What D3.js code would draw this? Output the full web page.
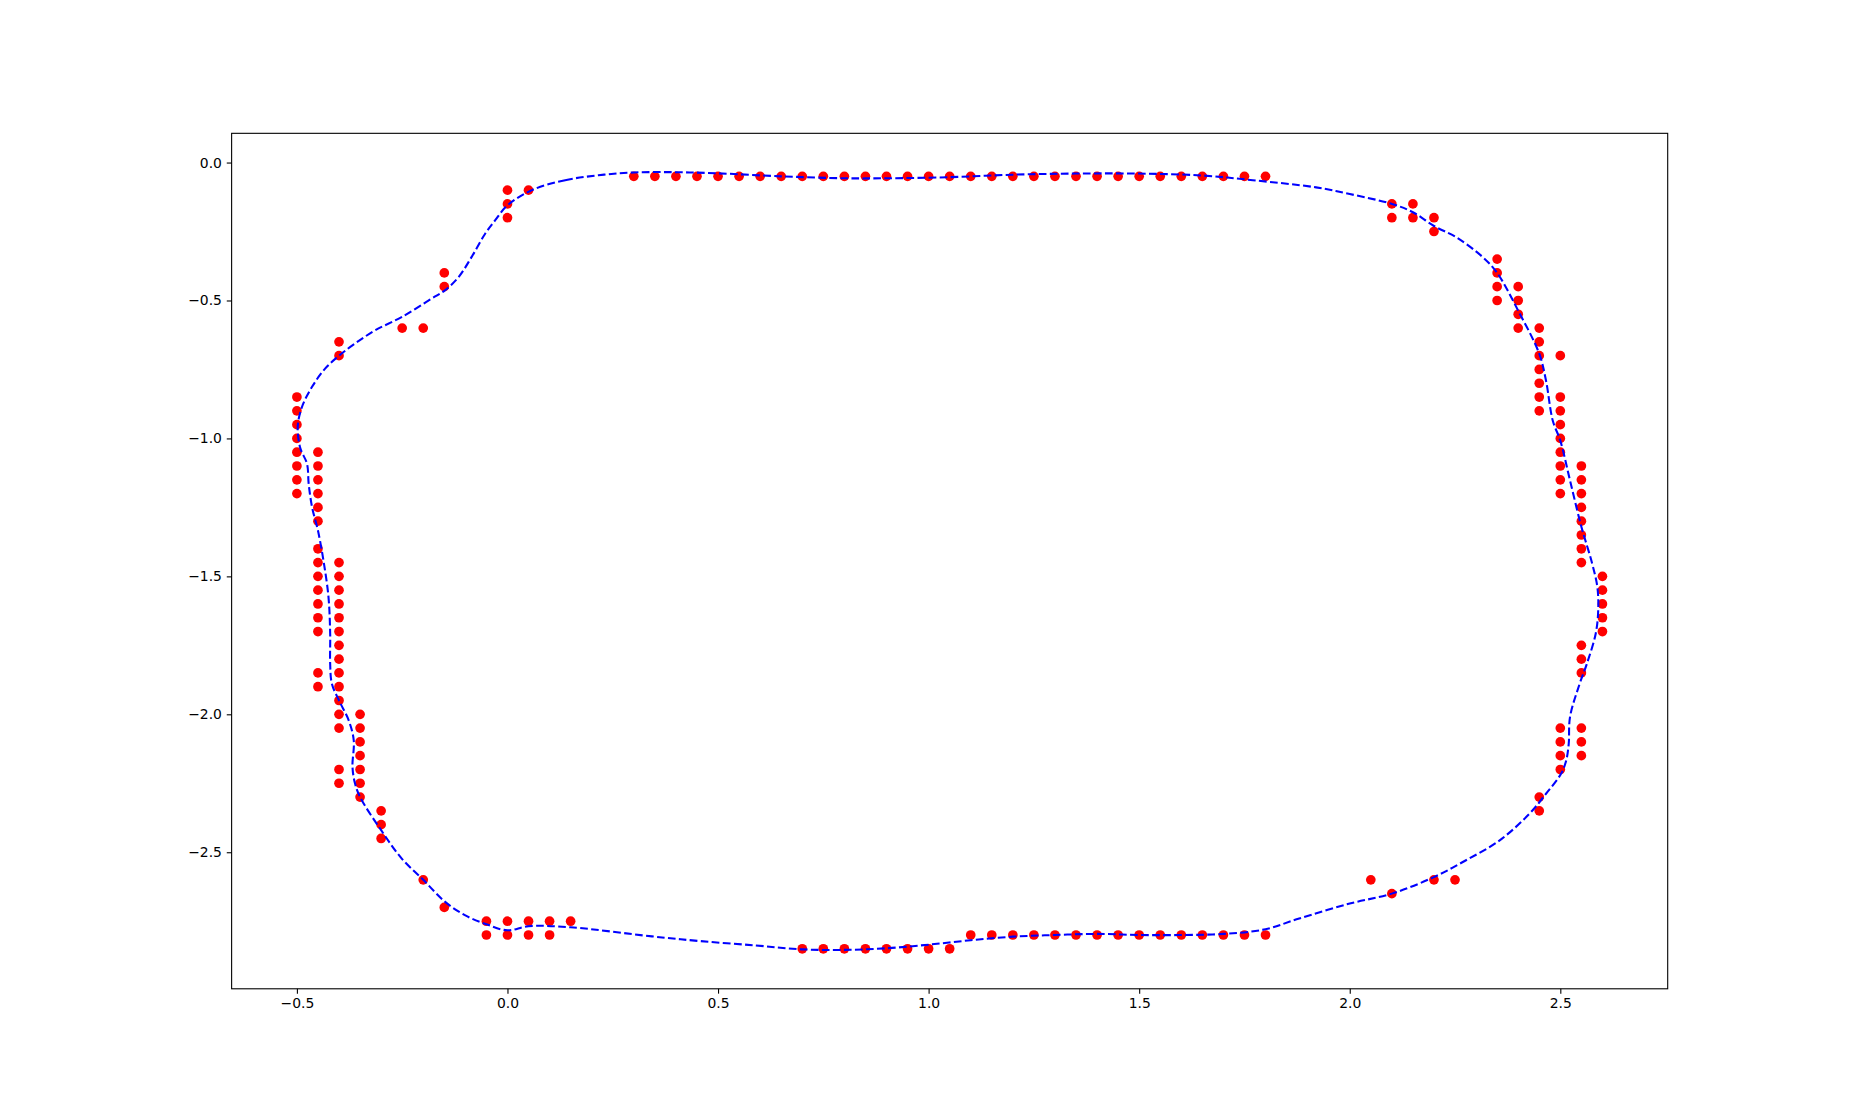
<!DOCTYPE html>
<html>
<head>
<meta charset="utf-8">
<script src="https://cdn.jsdelivr.net/npm/d3@7"></script>
<style>
  html, body { margin: 0; padding: 0; background: #fff; }
  svg { display: block; }
  text { font-family: "DejaVu Sans", sans-serif; }
</style>
</head>
<body>
<svg id="chart" width="1853" height="1111"></svg>
<script>
// ---- data: scattered points (x, y) ----
const pointsX = [
  // top row y=-0.05
  0.3,0.35,0.4,0.45,0.5,0.55,0.6,0.65,0.7,0.75,0.8,0.85,0.9,0.95,1.0,1.05,1.1,1.15,1.2,1.25,1.3,1.35,1.4,1.45,1.5,1.55,1.6,1.65,1.7,1.75,1.8,
  // top-left
  0.0,0.0,0.0,0.05,-0.15,-0.15,-0.25,-0.2,-0.4,-0.4,
  // left x=-0.5
  -0.5,-0.5,-0.5,-0.5,-0.5,-0.5,-0.5,-0.5,
  // x=-0.45
  -0.45,-0.45,-0.45,-0.45,-0.45,-0.45,-0.45,-0.45,-0.45,-0.45,-0.45,-0.45,-0.45,-0.45,-0.45,
  // x=-0.4
  -0.4,-0.4,-0.4,-0.4,-0.4,-0.4,-0.4,-0.4,-0.4,-0.4,-0.4,-0.4,-0.4,-0.4,-0.4,
  // x=-0.35
  -0.35,-0.35,-0.35,-0.35,-0.35,-0.35,-0.35,
  // x=-0.3
  -0.3,-0.3,-0.3,
  // bottom-left
  -0.2,-0.15,-0.05,-0.05,0.0,0.0,0.05,0.05,0.1,0.1,0.15,
  // bottom row y=-2.85
  0.7,0.75,0.8,0.85,0.9,0.95,1.0,1.05,
  // bottom row y=-2.8
  1.1,1.15,1.2,1.25,1.3,1.35,1.4,1.45,1.5,1.55,1.6,1.65,1.7,1.75,1.8,
  // bottom-right
  2.05,2.1,2.2,2.25,2.45,2.45,
  // x=2.5 lower
  2.5,2.5,2.5,2.5,
  // x=2.55 lower
  2.55,2.55,2.55,2.55,2.55,2.55,
  // x=2.6
  2.6,2.6,2.6,2.6,2.6,
  // x=2.55 upper
  2.55,2.55,2.55,2.55,2.55,2.55,2.55,2.55,
  // x=2.5 upper
  2.5,2.5,2.5,2.5,2.5,2.5,2.5,2.5,2.5,
  // x=2.45
  2.45,2.45,2.45,2.45,2.45,2.45,2.45,
  // x=2.4
  2.4,2.4,2.4,2.4,
  // x=2.35
  2.35,2.35,2.35,2.35,
  // top-right
  2.1,2.1,2.15,2.15,2.2,2.2
];
const pointsY = [
  -0.05,-0.05,-0.05,-0.05,-0.05,-0.05,-0.05,-0.05,-0.05,-0.05,-0.05,-0.05,-0.05,-0.05,-0.05,-0.05,-0.05,-0.05,-0.05,-0.05,-0.05,-0.05,-0.05,-0.05,-0.05,-0.05,-0.05,-0.05,-0.05,-0.05,-0.05,
  -0.1,-0.15,-0.2,-0.1,-0.4,-0.45,-0.6,-0.6,-0.65,-0.7,
  -0.85,-0.9,-0.95,-1.0,-1.05,-1.1,-1.15,-1.2,
  -1.05,-1.1,-1.15,-1.2,-1.25,-1.3,-1.4,-1.45,-1.5,-1.55,-1.6,-1.65,-1.7,-1.85,-1.9,
  -1.45,-1.5,-1.55,-1.6,-1.65,-1.7,-1.75,-1.8,-1.85,-1.9,-1.95,-2.0,-2.05,-2.2,-2.25,
  -2.0,-2.05,-2.1,-2.15,-2.2,-2.25,-2.3,
  -2.35,-2.4,-2.45,
  -2.6,-2.7,-2.75,-2.8,-2.75,-2.8,-2.75,-2.8,-2.75,-2.8,-2.75,
  -2.85,-2.85,-2.85,-2.85,-2.85,-2.85,-2.85,-2.85,
  -2.8,-2.8,-2.8,-2.8,-2.8,-2.8,-2.8,-2.8,-2.8,-2.8,-2.8,-2.8,-2.8,-2.8,-2.8,
  -2.6,-2.65,-2.6,-2.6,-2.3,-2.35,
  -2.05,-2.1,-2.15,-2.2,
  -2.05,-2.1,-2.15,-1.75,-1.8,-1.85,
  -1.5,-1.55,-1.6,-1.65,-1.7,
  -1.1,-1.15,-1.2,-1.25,-1.3,-1.35,-1.4,-1.45,
  -0.7,-0.85,-0.9,-0.95,-1.0,-1.05,-1.1,-1.15,-1.2,
  -0.6,-0.65,-0.7,-0.75,-0.8,-0.85,-0.9,
  -0.45,-0.5,-0.55,-0.6,
  -0.35,-0.4,-0.45,-0.5,
  -0.15,-0.2,-0.15,-0.2,-0.2,-0.25
];

// ---- data: fitted closed curve vertices ----
const curveX = [
  0.058,0.137,0.216,0.3,0.4,0.5,0.65,0.8,0.9,1.05,1.2,1.35,1.5,1.65,1.77,1.92,2.0,2.1,2.15,2.2,2.253,2.316,2.35,2.40,2.45,2.466,2.482,2.5,2.523,2.55,2.575,2.588,2.590,2.584,2.563,2.546,2.523,2.52,2.514,2.502,2.466,2.427,2.356,2.276,2.2,2.1,2.0,1.88,1.8,1.7,1.6,1.5,1.4,1.3,1.2,1.1,1.0,0.9,0.8,0.7,0.59,0.457,0.343,0.15,0.05,0.0,-0.05,-0.10,-0.148,-0.2,-0.251,-0.30,-0.35,-0.362,-0.368,-0.365,-0.377,-0.40,-0.417,-0.421,-0.421,-0.425,-0.437,-0.45,-0.464,-0.472,-0.476,-0.492,-0.498,-0.488,-0.464,-0.433,-0.4,-0.362,-0.314,-0.25,-0.18,-0.15,-0.116,-0.085,-0.053,-0.029,0.0
];
const curveY = [
  -0.10,-0.064,-0.046,-0.036,-0.035,-0.039,-0.05,-0.057,-0.057,-0.053,-0.044,-0.040,-0.040,-0.047,-0.064,-0.09,-0.114,-0.15,-0.18,-0.23,-0.271,-0.343,-0.40,-0.537,-0.693,-0.79,-0.935,-1.008,-1.152,-1.32,-1.45,-1.539,-1.624,-1.708,-1.817,-1.889,-2.01,-2.107,-2.167,-2.215,-2.288,-2.36,-2.457,-2.529,-2.59,-2.65,-2.686,-2.74,-2.779,-2.796,-2.8,-2.8,-2.796,-2.8,-2.806,-2.819,-2.835,-2.848,-2.854,-2.852,-2.838,-2.822,-2.805,-2.772,-2.768,-2.783,-2.761,-2.729,-2.68,-2.6,-2.523,-2.42,-2.30,-2.251,-2.191,-2.095,-2.022,-1.95,-1.889,-1.817,-1.708,-1.575,-1.442,-1.334,-1.249,-1.165,-1.092,-1.035,-0.958,-0.886,-0.813,-0.747,-0.70,-0.656,-0.608,-0.559,-0.493,-0.465,-0.415,-0.342,-0.258,-0.209,-0.155
];

const xTicks = [-0.5, 0.0, 0.5, 1.0, 1.5, 2.0, 2.5];
const yTicks = [0.0, -0.5, -1.0, -1.5, -2.0, -2.5];

(function () {
  // ---- layout ----
  const W = 1853, H = 1111;
  const mLeft = 0.125 * W, mRight = 0.9 * W, mTop = 0.12 * H, mBottom = 0.89 * H;

  const points = pointsX.map((v, i) => ({x: v, y: pointsY[i]}));
  const curve = curveX.map((v, i) => ({x: v, y: curveY[i]}));

  function padded(ext) {
    const d = (ext[1] - ext[0]) * 0.05;
    return [ext[0] - d, ext[1] + d];
  }
  const allX = pointsX.concat(curveX), allY = pointsY.concat(curveY);
  const x = d3.scaleLinear().domain(padded(d3.extent(allX))).range([mLeft, mRight]);
  const y = d3.scaleLinear().domain(padded(d3.extent(allY))).range([mBottom, mTop]);

  const svg = d3.select("#chart");
  svg.append("rect").attr("width", W).attr("height", H).attr("fill", "#fff");

  const fmt = v => (v < 0 ? "\u2212" : "") + Math.abs(v).toFixed(1);

  // points
  svg.append("g").selectAll("circle").data(points).join("circle")
    .attr("cx", d => x(d.x)).attr("cy", d => y(d.y)).attr("r", 4.85)
    .attr("fill", "#ff0000");

  // curve
  const line = d3.line().x(d => x(d.x)).y(d => y(d.y)).curve(d3.curveCatmullRomClosed.alpha(0.5));
  svg.append("path").datum(curve).attr("d", line)
    .attr("fill", "none").attr("stroke", "#0000ff").attr("stroke-width", 2.08)
    .attr("stroke-dasharray", "7.7,3.33");

  // axes
  const xAxis = d3.axisBottom(x).tickValues(xTicks).tickFormat(fmt).tickSize(4.86).tickPadding(4.86);
  const yAxis = d3.axisLeft(y).tickValues(yTicks).tickFormat(fmt).tickSize(4.86).tickPadding(4.86);
  const gx = svg.append("g").attr("transform", `translate(0,${mBottom})`).call(xAxis);
  const gy = svg.append("g").attr("transform", `translate(${mLeft},0)`).call(yAxis);
  [gx, gy].forEach(g => {
    g.select(".domain").remove();
    g.selectAll(".tick line").attr("stroke", "#000").attr("stroke-width", 1.1);
    g.selectAll(".tick text").attr("fill", "#000").style("font-size", "13.9px")
      .style("font-family", "'DejaVu Sans', sans-serif");
  });

  // frame
  svg.append("rect").attr("x", mLeft).attr("y", mTop)
    .attr("width", mRight - mLeft).attr("height", mBottom - mTop)
    .attr("fill", "none").attr("stroke", "#000").attr("stroke-width", 1.1);
})();
</script>
</body>
</html>
